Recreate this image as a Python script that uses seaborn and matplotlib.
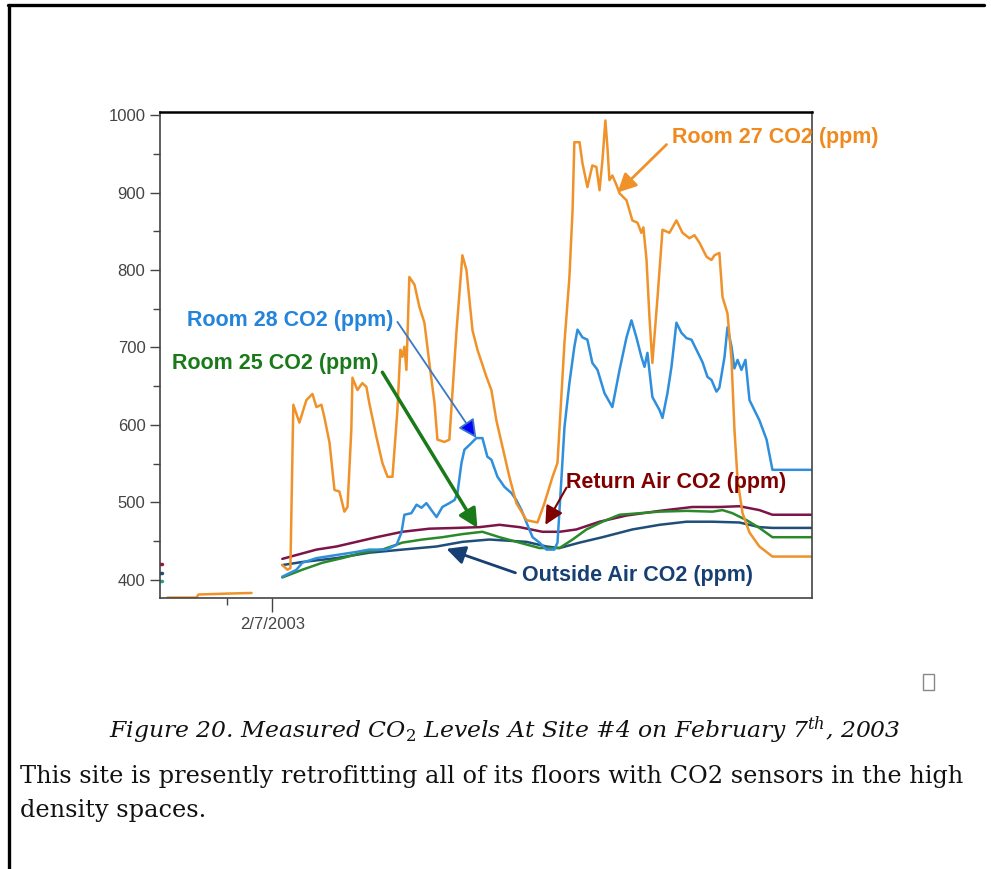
import numpy as np
import pandas as pd
import matplotlib
matplotlib.use("Agg")
import matplotlib.pyplot as plt
from matplotlib.lines import Line2D
from matplotlib.patches import Rectangle
import seaborn as sns

sns.set_theme(style="ticks")
plt.rcParams['font.family'] = ['Liberation Sans', 'DejaVu Sans']
plt.rcParams['mathtext.fontset'] = 'dejavuserif'

# hours after 2/7/2003 00:00, CO2 in ppm
room27_h = [0.44, 0.67, 0.80, 0.93, 1.20, 1.51, 1.78, 1.96, 2.18, 2.31, 2.54, 2.76, 2.98, 3.20, 3.34,
            3.51, 3.56, 3.78, 4.00, 4.18, 4.31, 4.63, 4.89, 5.12, 5.34, 5.56, 5.69, 5.78, 5.87, 5.96,
            6.09, 6.32, 6.54, 6.76, 6.98, 7.21, 7.34, 7.65, 7.87, 8.19, 8.45, 8.63, 8.90, 9.12, 9.52,
            9.74, 9.96, 10.23, 10.54, 10.85, 11.30, 11.79, 12.10, 12.46, 12.68, 12.99, 13.21, 13.35,
            13.43, 13.66, 13.79, 14.01, 14.23, 14.41, 14.55, 14.68, 14.81, 14.90, 14.99, 15.12, 15.30,
            15.44, 15.75, 16.01, 16.24, 16.41, 16.50, 16.64, 16.77, 16.90, 17.13, 17.35, 17.66, 17.97,
            18.24, 18.55, 18.77, 19.00, 19.31, 19.53, 19.66, 19.88, 20.02, 20.24, 20.42, 20.55, 20.69,
            20.91, 21.22, 21.66, 22.24, 24.0]
room27_ppm = [419, 413, 415, 626, 603, 632, 640, 623, 626, 610, 577, 516, 514, 488, 494,
              594, 661, 645, 654, 649, 628, 584, 551, 533, 533, 619, 697, 688, 701, 671,
              791, 781, 752, 732, 680, 628, 581, 578, 581, 722, 819, 800, 722, 697, 662,
              645, 606, 572, 533, 499, 477, 474, 499, 533, 551, 706, 791, 877,
              965, 965, 938, 907, 935, 933, 903, 942, 993, 959, 916, 922, 910,
              899, 890, 864, 861, 848, 855, 813, 739, 680, 765, 852, 848, 864,
              848, 841, 845, 835, 817, 813, 819, 822, 765, 744, 684, 594, 529,
              486, 461, 443, 430, 430]
# earlier room 27 readings, before the gap
room27_early_h = [-4.67, -3.38, -3.29, -2.22, -0.93]
room27_early_ppm = [377, 377, 381, 382, 383]

room28_h = [0.44, 1.07, 1.33, 1.96, 2.85, 3.74, 4.31, 5.07, 5.52, 5.74, 5.87, 6.18, 6.41, 6.63, 6.85,
            7.07, 7.30, 7.56, 7.87, 8.10, 8.23, 8.41, 8.54, 8.76, 9.07, 9.34, 9.56, 9.74, 10.01, 10.32,
            10.63, 10.85, 11.08, 11.30, 11.57, 11.88, 12.19, 12.54, 12.68, 12.86, 12.99, 13.21, 13.43,
            13.57, 13.79, 14.01, 14.23, 14.46, 14.77, 15.12, 15.44, 15.75, 15.97, 16.19, 16.41, 16.55,
            16.68, 16.90, 17.22, 17.35, 17.57, 17.75, 17.97, 18.19, 18.42, 18.64, 18.86, 19.13, 19.35,
            19.53, 19.75, 19.88, 20.11, 20.24, 20.42, 20.55, 20.69, 20.86, 21.04, 21.22, 21.44, 21.66,
            21.98, 22.24, 24.0]
room28_ppm = [404, 413, 422, 428, 432, 436, 439, 439, 445, 461, 484, 486, 497, 493, 499,
              490, 481, 494, 499, 503, 512, 551, 568, 574, 583, 583, 559, 555, 533, 520,
              512, 503, 490, 474, 455, 448, 439, 439, 448, 533, 597, 654, 701,
              723, 713, 710, 680, 671, 641, 623, 671, 713, 735, 713, 688, 675,
              693, 636, 619, 609, 641, 675, 732, 719, 712, 710, 697, 681, 662,
              658, 643, 648, 688, 726, 701, 673, 684, 671, 684, 632, 619, 606,
              581, 542, 542]

return_h = [0.44, 1.07, 1.96, 2.85, 3.74, 4.63, 5.78, 6.98, 8.19, 9.21, 10.10, 10.99, 12.01, 12.77,
            13.52, 14.55, 15.75, 17.22, 18.68, 19.88, 20.77, 21.66, 22.24, 24.0]
return_ppm = [427, 432, 439, 443, 449, 455, 462, 466, 467, 468, 471, 468, 462, 462,
              465, 475, 483, 489, 494, 494, 495, 490, 484, 484]

room25_h = [0.44, 1.33, 2.22, 3.11, 4.00, 4.89, 5.78, 6.67, 7.56, 8.45, 9.34, 10.10, 10.99, 11.88,
            12.77, 13.35, 13.97, 14.68, 15.44, 16.33, 17.22, 18.42, 19.57, 20.02, 20.46, 21.09,
            21.66, 22.24, 24.0]
room25_ppm = [403, 413, 422, 428, 435, 439, 448, 452, 455, 459, 462, 455, 448, 441,
              441, 452, 465, 475, 484, 486, 488, 489, 488, 490, 486, 477,
              467, 455, 455]

outside_h = [0.44, 1.33, 2.85, 4.31, 5.78, 7.30, 8.45, 9.65, 11.30, 12.19, 12.77, 13.66, 14.68,
             16.01, 17.22, 18.42, 19.57, 20.77, 21.66, 22.24, 24.0]
outside_ppm = [419, 423, 428, 435, 439, 443, 449, 452, 449, 443, 441, 448, 455,
               465, 471, 475, 475, 474, 468, 467, 467]

# short stubs at the left edge of the plot
stub_h = [-5.0, -4.9]
stub_return_ppm = [421, 421]
stub_outside_ppm = [409, 409]
stub_teal_ppm = [399, 399]

colors = {
    'Return Air CO2 (ppm)': '#7d1448',
    'Outside Air CO2 (ppm)': '#1f4e79',
    'Room 25 CO2 (ppm)': '#2a8a2a',
    'Room 28 CO2 (ppm)': '#2f8fdc',
    'Room 27 CO2 (ppm)': '#f0922a',
}
label_colors = {
    'Return Air CO2 (ppm)': '#800000',
    'Outside Air CO2 (ppm)': '#163f73',
    'Room 25 CO2 (ppm)': '#1a7a1a',
    'Room 28 CO2 (ppm)': '#2384dc',
    'Room 27 CO2 (ppm)': '#f08a1e',
}

frames = []
for name, h, v in [('Return Air CO2 (ppm)', return_h, return_ppm),
                   ('Outside Air CO2 (ppm)', outside_h, outside_ppm),
                   ('Room 25 CO2 (ppm)', room25_h, room25_ppm),
                   ('Room 28 CO2 (ppm)', room28_h, room28_ppm),
                   ('Room 27 CO2 (ppm)', room27_h, room27_ppm)]:
    frames.append(pd.DataFrame({'hour': h, 'ppm': v, 'series': name}))
df = pd.concat(frames, ignore_index=True)

fig = plt.figure(figsize=(9.91, 8.69), dpi=100)
ax = fig.add_axes([160 / 991, 1 - 598 / 869, 652 / 991, 486 / 869])

sns.lineplot(data=df, x='hour', y='ppm', hue='series', palette=colors, estimator=None,
             sort=False, legend=False, linewidth=1.8, ax=ax)
sns.lineplot(x=room27_early_h, y=room27_early_ppm, color=colors['Room 27 CO2 (ppm)'],
             linewidth=1.8, ax=ax)
for v, c in [(stub_return_ppm, '#a0143c'), (stub_outside_ppm, '#1f4e79'),
             (stub_teal_ppm, '#2aa08a')]:
    sns.lineplot(x=stub_h, y=v, color=c, linewidth=2.5, ax=ax)

ax.set_xlim(-5, 24)
ax.set_ylim(376.5, 1004)
ax.set_yticks(range(400, 1001, 100))
ax.set_yticks(range(450, 1000, 100), minor=True)
ax.set_xticks([0])
ax.set_xticklabels(['2/7/2003'])
ax.set_xticks([-2], minor=True)
ax.set_xlabel('')
ax.set_ylabel('')
ax.tick_params(axis='both', which='major', labelsize=12, labelcolor='#444444', color='#444444',
               length=7, width=1)
ax.tick_params(axis='both', which='minor', color='#444444', length=5, width=1)
ax.tick_params(axis='x', which='major', length=10, pad=4)
for side in ['left', 'right', 'bottom']:
    ax.spines[side].set_visible(True)
    ax.spines[side].set_color('#444444')
    ax.spines[side].set_linewidth(1.2)
ax.spines['top'].set_visible(True)
ax.spines['top'].set_color('black')
ax.spines['top'].set_linewidth(1.8)

label_kw = dict(fontsize=15.5, fontweight='bold', va='center')
head = 28

ax.text(17.79, 971, 'Room 27 CO2 (ppm)', color=label_colors['Room 27 CO2 (ppm)'], ha='left', **label_kw)
ax.annotate('', xy=(15.35, 900), xytext=(17.53, 962),
            arrowprops=dict(arrowstyle='-|>', mutation_scale=head, lw=2,
                            color=colors['Room 27 CO2 (ppm)'], shrinkA=0, shrinkB=0))

ax.text(-3.78, 735, 'Room 28 CO2 (ppm)', color=label_colors['Room 28 CO2 (ppm)'], ha='left', **label_kw)
ax.annotate('', xy=(9.07, 583), xytext=(5.56, 733),
            arrowprops=dict(arrowstyle='-|>', mutation_scale=head, lw=1.3,
                            ec='#3a78c4', fc='#0000ff', shrinkA=0, shrinkB=0))

ax.text(-4.45, 679, 'Room 25 CO2 (ppm)', color=label_colors['Room 25 CO2 (ppm)'], ha='left', **label_kw)
ax.annotate('', xy=(9.12, 467), xytext=(4.89, 668),
            arrowprops=dict(arrowstyle='-|>', mutation_scale=head, lw=2.5,
                            color='#1a7a1a', shrinkA=0, shrinkB=0))

ax.text(13.08, 526, 'Return Air CO2 (ppm)', color=label_colors['Return Air CO2 (ppm)'], ha='left', **label_kw)
ax.annotate('', xy=(12.14, 471), xytext=(13.08, 519),
            arrowprops=dict(arrowstyle='-|>', mutation_scale=head, lw=1.5,
                            color='#800000', shrinkA=0, shrinkB=0))

ax.text(11.08, 406, 'Outside Air CO2 (ppm)', color=label_colors['Outside Air CO2 (ppm)'], ha='left', **label_kw)
ax.annotate('', xy=(7.74, 440), xytext=(10.81, 409),
            arrowprops=dict(arrowstyle='-|>', mutation_scale=head, lw=2,
                            color='#163f73', shrinkA=0, shrinkB=0))

# page frame of the document
fig.add_artist(Line2D([8 / 991, 984 / 991], [1 - 5 / 869, 1 - 5 / 869], color='black', lw=2.4))
fig.add_artist(Line2D([9 / 991, 9 / 991], [0, 1 - 5 / 869], color='black', lw=2.4))
fig.add_artist(Rectangle((923 / 991, 1 - 690 / 869), 11 / 991, 16 / 869, fill=False,
                         ec='#888888', lw=1, transform=fig.transFigure))

serif = ['DejaVu Serif']
fig.text(505 / 991, 1 - 730 / 869,
         r'Figure 20. Measured CO$_{\mathit{2}}$ Levels At Site #4 on February 7$^{th}$, 2003',
         ha='center', va='center', fontsize=16.9, style='italic', family=serif, color='#111111')
fig.text(20 / 991, 1 - 777 / 869,
         'This site is presently retrofitting all of its floors with CO2 sensors in the high',
         ha='left', va='center', fontsize=17.3, family=serif, color='#111111')
fig.text(20 / 991, 1 - 810 / 869, 'density spaces.',
         ha='left', va='center', fontsize=17.3, family=serif, color='#111111')

fig.savefig('out.png', dpi=100)
